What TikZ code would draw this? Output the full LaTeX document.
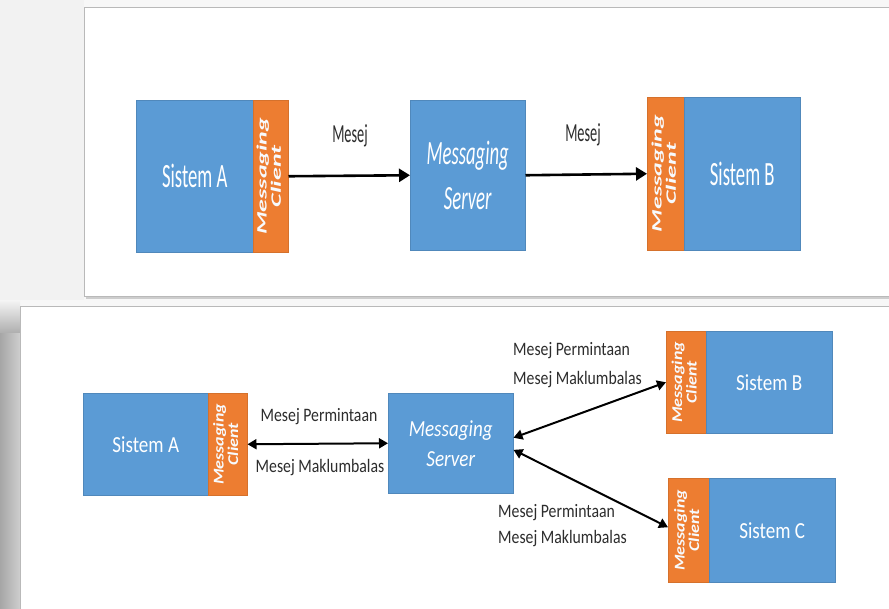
\documentclass[tikz,border=0pt]{standalone}
\usepackage{fontspec}
\setmainfont{Carlito}
\newfontfamily\ftop{Carlito}[FakeStretch=0.55]
\newfontfamily\fbot{Carlito}[FakeStretch=0.83]
\usetikzlibrary{arrows.meta,shadows,calc}
\definecolor{sysblue}{RGB}{91,155,213}
\definecolor{sysorange}{RGB}{237,125,49}
\definecolor{labgray}{RGB}{45,45,45}
\newcommand{\clientlabel}[3]{\rotatebox{90}{\scalebox{1}[#2]{\fontsize{#1}{#1}\selectfont\bfseries\itshape\renewcommand\arraystretch{#3}\begin{tabular}{@{}c@{}}Messaging\\Client\end{tabular}}}}
\tikzset{
  sysbox/.style={fill=sysblue, draw=sysblue!88!black, line width=0.5pt, inner sep=0pt, anchor=north west, text=white},
  clientbox/.style={fill=sysorange, draw=sysorange!90!black, line width=0.5pt, inner sep=0pt, anchor=north west, text=white!95!sysblue},
  panel/.style={fill=white, draw=gray!55, line width=0.8pt, drop shadow={shadow xshift=1.5pt, shadow yshift=-2.5pt, opacity=0.35}},
  toplabel/.style={text=labgray, font=\ftop\fontsize{26}{28}\selectfont, inner sep=0pt},
  botlabel/.style={text=labgray, font=\fbot\fontsize{19}{21}\selectfont, inner sep=0pt},
  toparrow/.style={draw=black, line width=2.6pt, -{Triangle[length=11pt,width=13pt]}},
  botarrow/.style={draw=black, line width=2pt, {Triangle[length=9pt,width=10pt]}-{Triangle[length=9pt,width=10pt]}},
}
\begin{document}
\begin{tikzpicture}[x=1pt,y=-1pt]
\useasboundingbox (0,0) rectangle (889,608);
% background
\fill[gray!6] (0,0) rectangle (889,608);
\fill[gray!10] (0,0) rectangle (84,300);
\shade[left color=gray!70, right color=gray!38] (0,330) rectangle (20,608);
\shade[top color=gray!8, bottom color=gray!62] (0,300) rectangle (20,332);
% panels
\path[panel] (84,7) rectangle (905,296);
\path[panel] (20,306) rectangle (905,625);

% ---------- top diagram ----------
\node[sysbox, minimum width=117pt, minimum height=152pt, font=\ftop\fontsize{34}{40}\selectfont] (ta) at (136,100) {Sistem A};
\node[clientbox, minimum width=35pt, minimum height=152pt] (tac) at (253,100) {\clientlabel{26}{0.55}{0.95}};
\node[sysbox, minimum width=115pt, minimum height=150pt, align=center, font=\ftop\itshape\fontsize{34}{45}\selectfont] (ts) at (410,100) {Messaging\\Server};
\node[clientbox, minimum width=37pt, minimum height=153pt] (tbc) at (647,97) {\clientlabel{26}{0.55}{0.95}};
\node[sysbox, minimum width=116pt, minimum height=153pt, font=\ftop\fontsize{34}{40}\selectfont] (tb) at (684,97) {Sistem B};
\draw[toparrow] (tac.east) -- (ts.west);
\draw[toparrow] (ts.east) -- (tbc.west);
\node[toplabel] (tm1) at (350,136) {Mesej};
\node[toplabel] (tm2) at (583,135) {Mesej};

% ---------- bottom diagram ----------
\node[sysbox, minimum width=125pt, minimum height=102pt, font=\fbot\fontsize{23}{28}\selectfont] (ba) at (83,393) {Sistem A};
\node[clientbox, minimum width=39pt, minimum height=102pt] (bac) at (208,393) {\clientlabel{18}{0.83}{0.9}};
\node[sysbox, minimum width=125pt, minimum height=100pt, align=center, font=\fbot\itshape\fontsize{23}{30}\selectfont] (bs) at (388,393) {Messaging\\Server};
\node[clientbox, minimum width=40pt, minimum height=102pt] (bbc) at (666,331) {\clientlabel{18}{0.83}{0.9}};
\node[sysbox, minimum width=126pt, minimum height=102pt, font=\fbot\fontsize{23}{28}\selectfont] (bb) at (706,331) {Sistem B};
\node[clientbox, minimum width=41pt, minimum height=104pt] (bcc) at (668,478) {\clientlabel{18}{0.83}{0.9}};
\node[sysbox, minimum width=126pt, minimum height=104pt, font=\fbot\fontsize{23}{28}\selectfont] (bc) at (709,478) {Sistem C};

\draw[botarrow] (bac.east) -- (bs.west);
\draw[botarrow] (bs.5) -- (bbc.west);
\draw[botarrow] (bs.-6) -- ($(bcc.west)+(0,-3)$);

\node[botlabel] (l1) at (319,417) {Mesej Permintaan};
\node[botlabel] (l2) at (320,468) {Mesej Maklumbalas};
\node[botlabel, anchor=west] (l3) at (513,351) {Mesej Permintaan};
\node[botlabel, anchor=west] (l4) at (513,380) {Mesej Maklumbalas};
\node[botlabel, anchor=west] (l5) at (498,513) {Mesej Permintaan};
\node[botlabel, anchor=west] (l6) at (498,539) {Mesej Maklumbalas};
\end{tikzpicture}
\end{document}
